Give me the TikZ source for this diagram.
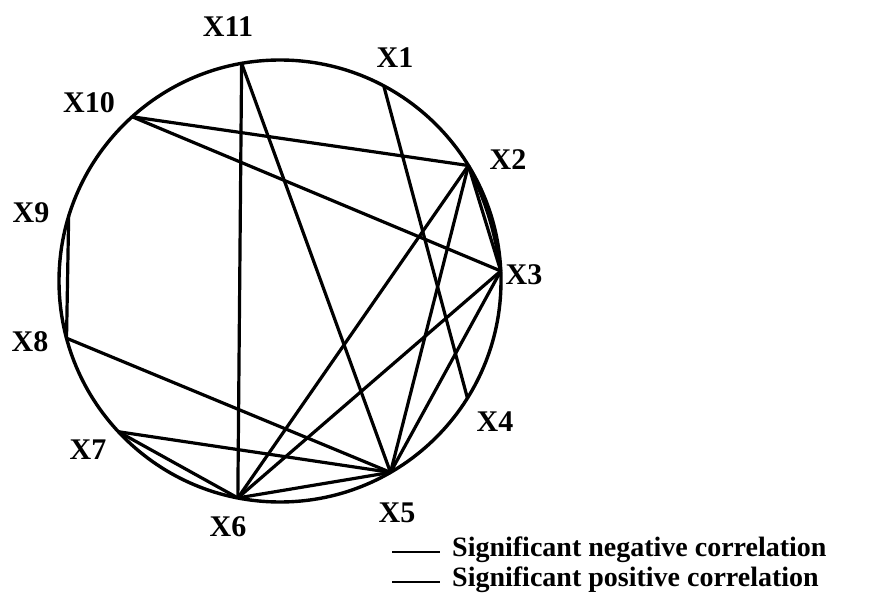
\documentclass[tikz,border=0pt]{standalone}
\usepackage{fontspec}
\setmainfont{Liberation Serif}
\usetikzlibrary{calc}
\begin{document}
\begin{tikzpicture}[x=1pt,y=1pt,line join=round]
  \tikzset{every node/.style={font=\fontsize{30}{34}\selectfont\bfseries,inner sep=0pt},
    legendtext/.style={font=\fontsize{28}{32}\selectfont\bfseries,anchor=base west},
    link/.style={line width=3.2pt},
    ring/.style={line width=3.4pt}}
  \useasboundingbox (0,0) rectangle (881,598);

  \coordinate (o) at (280,317);
  \coordinate (x1)  at ($(o)+(62:221)$);
  \coordinate (x2)  at ($(o)+(31.5:221)$);
  \coordinate (x3)  at ($(o)+(2.6:221)$);
  \coordinate (x4)  at ($(o)+(328:221)$);
  \coordinate (x5)  at ($(o)+(300:221)$);
  \coordinate (x6)  at ($(o)+(259:221)$);
  \coordinate (x7)  at ($(o)+(223:221)$);
  \coordinate (x8)  at ($(o)+(195:221)$);
  \coordinate (x9)  at ($(o)+(163:221)$);
  \coordinate (x10) at ($(o)+(132:221)$);
  \coordinate (x11) at ($(o)+(100:221)$);

  \node (t1)  at (395,540) {X1};
  \node (t2)  at (508,438) {X2};
  \node (t3)  at (524,323) {X3};
  \node (t4)  at (495,176) {X4};
  \node (t5)  at (397,85)  {X5};
  \node (t6)  at (228,71)  {X6};
  \node (t7)  at (88,148)  {X7};
  \node (t8)  at (30,256)  {X8};
  \node (t9)  at (31,385)  {X9};
  \node (t10) at (89,495)  {X10};
  \node (t11) at (228,571) {X11};

  \draw[ring] (o) circle (221);

  \path[link]
    (x11) edge (x6)
    (x11) edge (x5)
    (x1) edge (x4)
    (x10) edge (x2)
    (x10) edge (x3)
    (x2) edge (x3)
    (x2) edge[bend left=8] (x3)
    (x2) edge (x6)
    (x2) edge (x5)
    (x3) edge (x6)
    (x3) edge (x5)
    (x9) edge (x8)
    (x8) edge (x5)
    (x7) edge (x5)
    (x7) edge (x6)
    (x6) edge (x5);

  % legend
  \coordinate (n1) at (392,46);
  \coordinate (n2) at (440,46);
  \coordinate (p1) at (392,16);
  \coordinate (p2) at (440,16);
  \draw[line width=2.8pt] (n1) -- (n2);
  \draw[line width=2.2pt] (p1) -- (p2);
  \node[legendtext] (neg) at (452,42) {Significant negative correlation};
  \node[legendtext] (pos) at (452,12) {Significant positive correlation};
\end{tikzpicture}
\end{document}
